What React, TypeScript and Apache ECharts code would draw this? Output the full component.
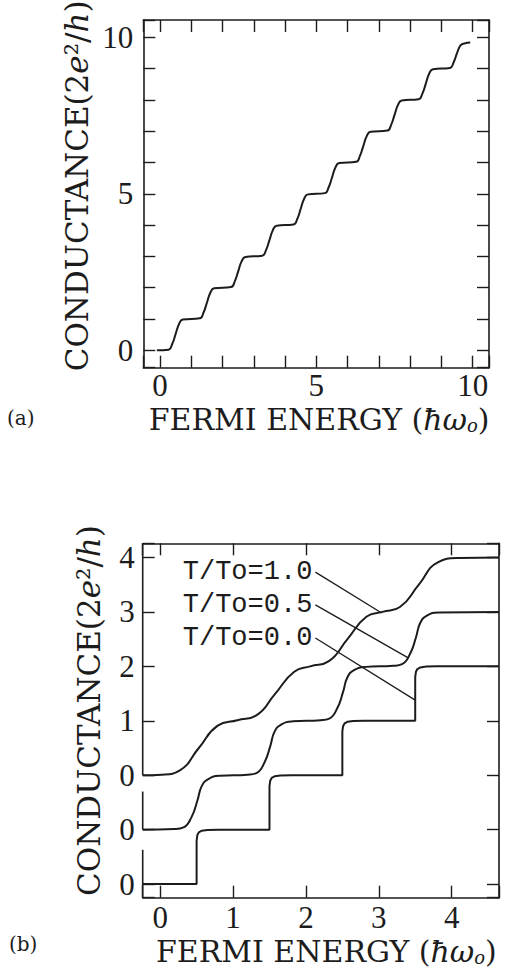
import React, { useEffect, useRef } from "react";
import * as echarts from "echarts";

// ---------------- data ----------------
// (a) conductance vs Fermi energy
const energyA = [
  -0.1, 0.27, 0.39, 0.5, 0.61, 0.73, 1.27, 1.39, 1.5, 1.61, 1.73, 2.27, 2.39, 2.5, 2.61, 2.73,
  3.27, 3.39, 3.5, 3.61, 3.73, 4.27, 4.39, 4.5, 4.61, 4.73, 5.27, 5.39, 5.5, 5.61, 5.73,
  6.27, 6.39, 6.5, 6.61, 6.73, 7.27, 7.39, 7.5, 7.61, 7.73, 8.27, 8.39, 8.5, 8.61, 8.73,
  9.27, 9.39, 9.5, 9.61, 9.73, 9.92,
];
const conductanceA = [
  0, 0.02, 0.2, 0.52, 0.84, 0.98, 1.02, 1.2, 1.52, 1.84, 1.98, 2.02, 2.2, 2.52, 2.84, 2.98,
  3.02, 3.2, 3.52, 3.84, 3.98, 4.02, 4.2, 4.52, 4.84, 4.98, 5.02, 5.2, 5.52, 5.84, 5.98,
  6.02, 6.2, 6.52, 6.84, 6.98, 7.02, 7.2, 7.52, 7.84, 7.98, 8.02, 8.2, 8.52, 8.84, 8.98,
  9.02, 9.2, 9.5, 9.74, 9.8, 9.83,
];
const xTickLabelsA = ["0", "5", "10"];
const yTickLabelsA = ["0", "5", "10"];

// (b) three temperatures, curves shifted down by one unit each
const energyB10 = [
  -0.24, 0.02, 0.27, 0.53, 0.79, 1.06, 1.32, 1.58, 1.84, 2.06, 2.31, 2.57, 2.83, 3.05,
  3.29, 3.55, 3.81, 4.1, 4.65,
];
const conductanceB10 = [
  0, 0.01, 0.09, 0.5, 0.91, 1.01, 1.1, 1.5, 1.9, 2.0, 2.09, 2.5, 2.91, 3.0,
  3.09, 3.5, 3.91, 3.99, 4.0,
];
const energyB05 = [
  -0.24, 0.2, 0.32, 0.43, 0.51, 0.57, 0.66, 0.82, 1.2, 1.32, 1.43, 1.51, 1.57, 1.66, 1.82,
  2.2, 2.32, 2.43, 2.51, 2.57, 2.66, 2.82, 3.2, 3.32, 3.43, 3.51, 3.57, 3.66, 3.82, 4.65,
];
const conductanceB05 = [
  0, 0.01, 0.04, 0.23, 0.53, 0.8, 0.93, 0.99, 1.01, 1.04, 1.23, 1.53, 1.8, 1.93, 1.99,
  2.01, 2.04, 2.23, 2.53, 2.8, 2.93, 2.99, 3.01, 3.04, 3.23, 3.53, 3.8, 3.93, 3.99, 4.0,
];
const energyB00 = [
  -0.24, 0.5, 0.5, 0.51, 0.53, 0.57, 0.65, 0.8, 1.5, 1.5, 1.51, 1.53, 1.57, 1.65, 1.8,
  2.5, 2.5, 2.51, 2.53, 2.57, 2.65, 2.8, 3.5, 3.5, 3.51, 3.53, 3.57, 3.65, 3.8, 4.65,
];
const conductanceB00 = [
  0, 0, 0.8, 0.9, 0.95, 0.98, 0.995, 1, 1, 1.8, 1.9, 1.95, 1.98, 1.995, 2,
  2, 2.8, 2.9, 2.95, 2.98, 2.995, 3, 3, 3.8, 3.9, 3.95, 3.98, 3.995, 4, 4,
];
const curveOffsetsB = [0, -1, -2];
const curveNamesB = ["T/To=1.0", "T/To=0.5", "T/To=0.0"];
const leaderStartB = [[2.13, 3.73], [2.13, 3.13], [2.13, 2.52]];
const leaderEndB = [[3.04, 2.98], [3.41, 2.15], [3.5, 1.38]];
const xTickLabelsB = ["0", "1", "2", "3", "4"];
const yTickValuesB = [4, 3, 2, 1, 0, -1, -2];
const yTickLabelsB = ["4", "3", "2", "1", "0", "0", "0"];
const leftEdgeSegmentsB = [[4.26, 0], [-0.3, -1], [-1.37, -2.25]];

const rangeA = { x: [-0.534, 10.52], y: [-0.556, 10.55] };
const rangeB = { x: [-0.24, 4.65], y: [-2.25, 4.26] };

// ---------------- styles ----------------
const ink = "#1c1c1c";
const digitFont = "Liberation Serif";
const serifFont = "DejaVu Serif";
const monoFont = "Liberation Mono";

const nameRich = (size: number) => ({
  it: { fontFamily: serifFont, fontSize: size, fontStyle: "italic", color: ink },
  sub: {
    fontFamily: serifFont,
    fontSize: Math.round(size * 0.6),
    fontStyle: "italic",
    color: ink,
    verticalAlign: "bottom",
  },
});

const xName = "FERMI ENERGY ({it|ħω}{sub|o})";
const yName = "CONDUCTANCE(2{it|e}²/{it|h})";

function fmtA(labels: string[]) {
  return (v: number) => {
    const s = String(Math.round(v * 1000) / 1000);
    return labels.includes(s) ? s : "";
  };
}
function fmtBx(v: number) {
  const s = String(Math.round(v * 1000) / 1000);
  return xTickLabelsB.includes(s) ? s : "";
}
function fmtBy(v: number) {
  const i = yTickValuesB.findIndex((t) => Math.abs(t - v) < 1e-6);
  return i >= 0 ? yTickLabelsB[i] : "";
}

const lineStyleAxis = { color: ink, width: 1.6 };
const tickStyle = { show: true, inside: true, length: 12, lineStyle: { color: ink, width: 1.4 } };

function axis(gridIndex: number, range: number[], splitNumber: number, position: string, extra: any = {}) {
  return {
    type: "value",
    gridIndex,
    position,
    min: range[0],
    max: range[1],
    splitNumber,
    nameMoveOverlap: false,
    axisLine: { show: true, onZero: false, lineStyle: lineStyleAxis },
    axisTick: tickStyle,
    splitLine: { show: false },
    axisLabel: { show: false },
    ...extra,
  };
}

const digitLabel = (formatter: any, margin: number) => ({
  show: true,
  margin,
  formatter,
  color: ink,
  fontFamily: digitFont,
  fontSize: 31,
  lineHeight: 24,
});

const nameStyle = (size: number, padding: number[]) => ({
  fontFamily: serifFont,
  fontSize: size,
  color: ink,
  padding,
  rich: nameRich(size),
});

export default function App() {
  const ref = useRef<HTMLDivElement>(null);
  useEffect(() => {
    if (!ref.current) return;
    const chart = echarts.init(ref.current, undefined, { renderer: "svg" });

    const bCurves = [
      [energyB10, conductanceB10],
      [energyB05, conductanceB05],
      [energyB00, conductanceB00],
    ];

    const series: any[] = [
      {
        type: "line",
        xAxisIndex: 0,
        yAxisIndex: 0,
        data: energyA.map((x, i) => [x, conductanceA[i]]),
        showSymbol: false,
        smooth: 0.5,
        lineStyle: { color: ink, width: 2 },
        silent: true,
      },
    ];
    bCurves.forEach(([xs, ys], k) => {
      series.push({
        type: "line",
        xAxisIndex: 2,
        yAxisIndex: 2,
        data: xs.map((x, i) => [x, ys[i] + curveOffsetsB[k]]),
        showSymbol: false,
        smooth: k === 2 ? false : 0.5,
        lineStyle: { color: ink, width: 2 },
        silent: true,
      });
    });
    curveNamesB.forEach((name, k) => {
      series.push({
        type: "line",
        xAxisIndex: 2,
        yAxisIndex: 2,
        data: [
          {
            value: leaderStartB[k],
            label: {
              show: true,
              position: "left",
              distance: 3,
              formatter: name,
              color: ink,
              fontFamily: monoFont,
              fontSize: 27,
            },
          },
          { value: leaderEndB[k], label: { show: false } },
        ],
        showSymbol: true,
        symbol: "circle",
        symbolSize: 0.01,
        itemStyle: { color: "rgba(0,0,0,0)" },
        lineStyle: { color: ink, width: 1.3 },
        silent: true,
      });
    });
    leftEdgeSegmentsB.forEach((seg) => {
      series.push({
        type: "line",
        xAxisIndex: 2,
        yAxisIndex: 2,
        clip: false,
        data: [
          [rangeB.x[0], seg[0]],
          [rangeB.x[0], seg[1]],
        ],
        showSymbol: false,
        lineStyle: { color: ink, width: 1.6 },
        silent: true,
      });
    });

    const option: any = {
      animation: false,
      backgroundColor: "#ffffff",
      grid: [
        { left: 143.3, top: 20, width: 345.7, height: 347.7, outerBoundsMode: "none" },
        { left: 142.7, top: 543.3, width: 356.3, height: 354.4, outerBoundsMode: "none" },
      ],
      xAxis: [
        axis(0, rangeA.x, 11, "bottom", {
          axisLabel: digitLabel(fmtA(xTickLabelsA), 6),
          name: xName,
          nameLocation: "middle",
          nameGap: 37,
          nameTextStyle: nameStyle(30, [0, 0, 0, 6]),
        }),
        axis(0, rangeA.x, 11, "top"),
        axis(1, rangeB.x, 5, "bottom", {
          axisLabel: digitLabel(fmtBx, 8),
          name: xName,
          nameLocation: "middle",
          nameGap: 39,
          nameTextStyle: nameStyle(30, [0, 0, 0, 11]),
        }),
        axis(1, rangeB.x, 5, "top"),
      ],
      yAxis: [
        axis(0, rangeA.y, 11, "left", {
          axisLabel: digitLabel(fmtA(yTickLabelsA), 10),
          name: yName,
          nameLocation: "middle",
          nameRotate: 90,
          nameGap: 51,
          nameTextStyle: nameStyle(31, [0, 0, 0, 16]),
        }),
        axis(0, rangeA.y, 11, "right"),
        axis(1, rangeB.y, 6, "left", {
          axisLine: { show: false, onZero: false },
          axisLabel: digitLabel(fmtBy, 8),
          name: yName,
          nameLocation: "middle",
          nameRotate: 90,
          nameGap: 38,
          nameTextStyle: nameStyle(31, [0, 0, 0, 20]),
        }),
        axis(1, rangeB.y, 6, "right"),
      ],
      graphic: [
        {
          type: "text",
          left: 7,
          top: 408,
          style: { text: "(a)", fontFamily: serifFont, fontSize: 20, fill: ink },
        },
        {
          type: "text",
          left: 9,
          top: 934,
          style: { text: "(b)", fontFamily: serifFont, fontSize: 20, fill: ink },
        },
      ],
      series,
    };
    chart.setOption(option);
    return () => chart.dispose();
  }, []);

  return (
    <div
      ref={ref}
      style={{ position: "absolute", left: 0, top: 0, width: 506, height: 979, background: "#fff" }}
    />
  );
}
